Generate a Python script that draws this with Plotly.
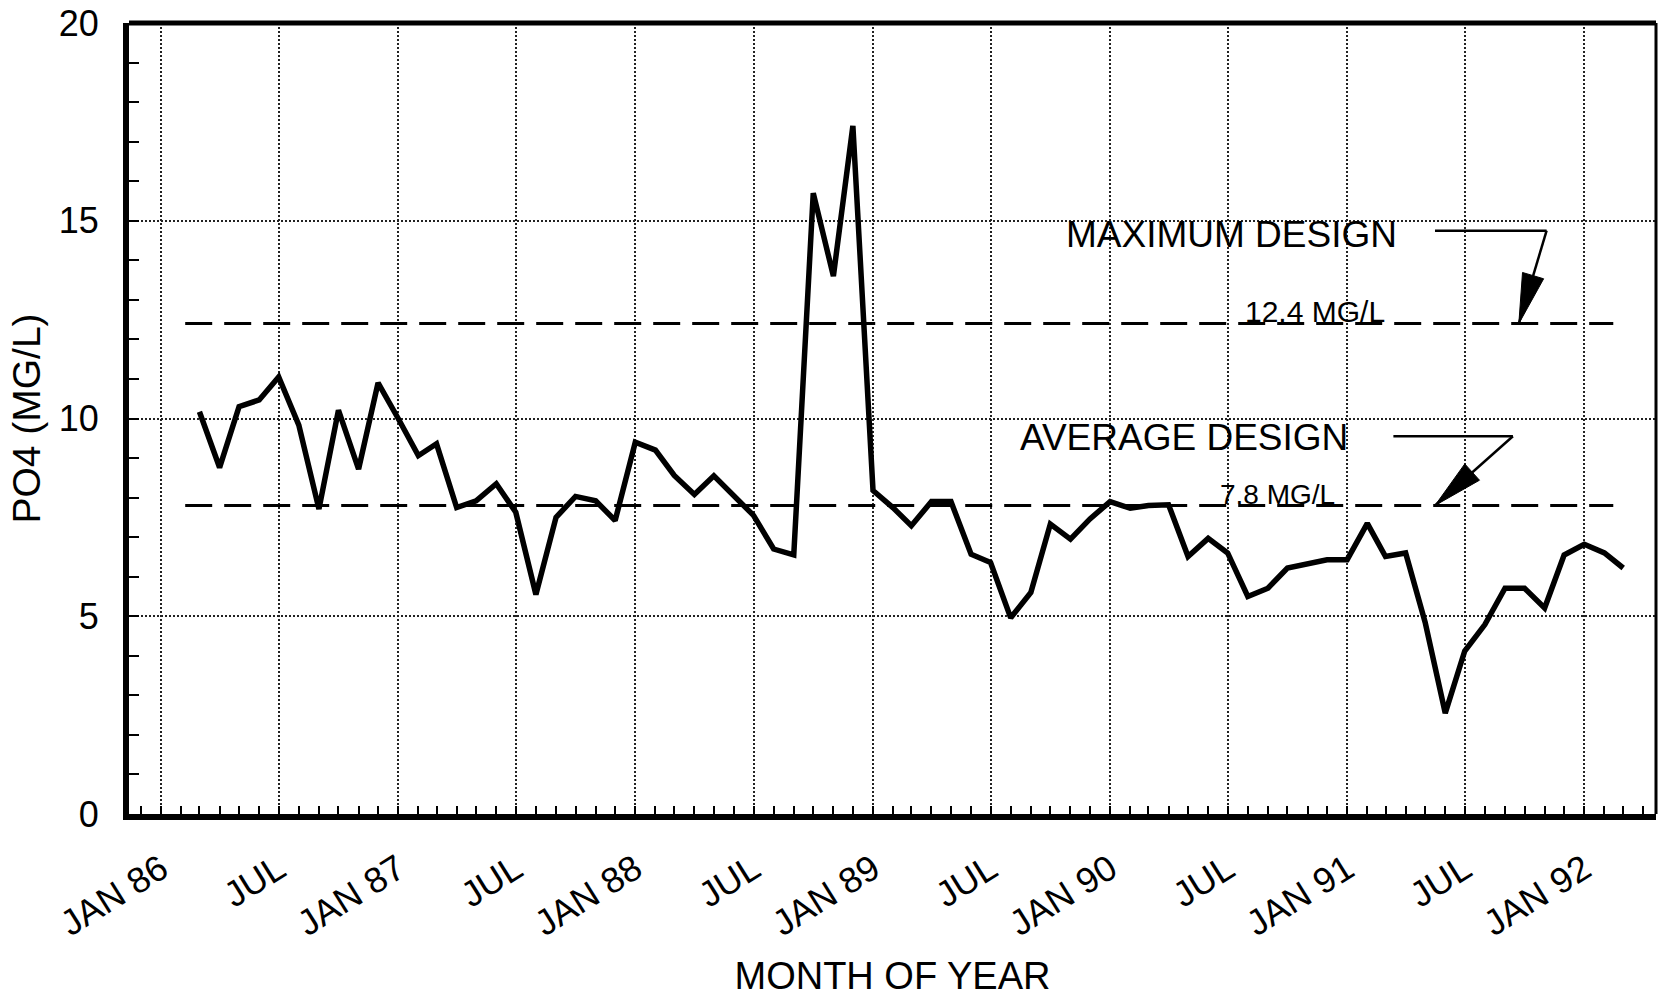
import math
import pandas as pd
import plotly.graph_objects as go

# ---------------- data ----------------
first_month = "1986-03-01"
po4_mg_l = [10.17, 8.76, 10.3, 10.47, 11.05, 9.83, 7.71, 10.21, 8.72, 10.9,
            10.0, 9.06, 9.36, 7.75, 7.92, 8.35, 7.63, 5.55, 7.5, 8.03, 7.92, 7.42,
            9.4, 9.2, 8.56, 8.08, 8.55, 8.05, 7.55, 6.7, 6.55, 15.7, 13.6, 17.4,
            8.18, 7.74, 7.29, 7.9, 7.9, 6.57, 6.36, 4.96, 5.6, 7.33, 6.95, 7.46,
            7.9, 7.73, 7.8, 7.82, 6.51, 6.97, 6.6, 5.5, 5.71, 6.22, 6.32, 6.43,
            6.43, 7.35, 6.51, 6.6, 4.85, 2.55, 4.12, 4.79, 5.71, 5.71, 5.21, 6.55,
            6.82, 6.6, 6.22]
months = pd.date_range(first_month, periods=len(po4_mg_l), freq="MS")

tick_dates = ["1986-01-01", "1986-07-01", "1987-01-01", "1987-07-01",
              "1988-01-01", "1988-07-01", "1989-01-01", "1989-07-01",
              "1990-01-01", "1990-07-01", "1991-01-01", "1991-07-01",
              "1992-01-01"]
tick_labels = ["JAN 86", "JUL", "JAN 87", "JUL", "JAN 88", "JUL", "JAN 89",
               "JUL", "JAN 90", "JUL", "JAN 91", "JUL", "JAN 92"]

design_levels = [12.4, 7.8]
design_titles = ["MAXIMUM DESIGN", "AVERAGE DESIGN"]
design_values = ["12.4 MG/L", "7.8 MG/L"]

# ---------------- layout geometry ----------------
W, H = 1659, 999
ML, MR, MT, MB = 129, 3, 21, 185
X_MIN_M, X_MAX_M = -1.62, 75.64     # months relative to Jan 1986
Y_MIN, Y_MAX = 0, 20
PX_M = (W - ML - MR) / (X_MAX_M - X_MIN_M)
PX_U = (H - MT - MB) / (Y_MAX - Y_MIN)
BASE = pd.Timestamp("1986-01-01")
FONT = "Liberation Sans, Arial, Helvetica, sans-serif"


def md(m):
    whole = math.floor(m)
    frac = m - whole
    d = BASE + pd.DateOffset(months=whole) + pd.Timedelta(days=frac * 30.4)
    return d.strftime("%Y-%m-%d %H:%M")


def head_path(dm, dv, length, half_w):
    tx, ty = dm * PX_M, dv * PX_U
    n = math.hypot(tx, ty)
    ux, uy = tx / n, ty / n
    bx, by = ux * length, uy * length
    nx, ny = -uy, ux
    return ("M0,0 L{:.1f},{:.1f} L{:.1f},{:.1f} Z"
            .format(bx + half_w * nx, by + half_w * ny,
                    bx - half_w * nx, by - half_w * ny))


fig = go.Figure()
fig.add_trace(go.Scatter(x=months, y=po4_mg_l, mode="lines",
                         line=dict(color="black", width=5.5),
                         hoverinfo="x+y", showlegend=False))

shapes = []
# design reference lines (dashed)
for lvl in design_levels:
    shapes.append(dict(type="line", xref="x", yref="y", x0=md(1.2), x1=md(73.45),
                       y0=lvl, y1=lvl, line=dict(color="black", width=3, dash="27px,12px")))

# leader lines + arrows (corner -> tip)
leaders = [
    # (start m, corner m, level y, tip m, tip y)
    (64.5, 70.1, 14.75, 68.7, design_levels[0]),
    (62.4, 68.4, 9.55, 64.5, design_levels[1]),
]
for m0, mc, yl, mt, yt in leaders:
    shapes.append(dict(type="line", xref="x", yref="y", x0=md(m0), x1=md(mc),
                       y0=yl, y1=yl, line=dict(color="black", width=2.5)))
    shapes.append(dict(type="line", xref="x", yref="y", x0=md(mc), x1=md(mt),
                       y0=yl, y1=yt, line=dict(color="black", width=2.5)))
    shapes.append(dict(type="path", xref="x", yref="y",
                       xsizemode="pixel", ysizemode="pixel",
                       xanchor=md(mt), yanchor=yt,
                       path=head_path(mc - mt, yl - yt, 50, 11),
                       fillcolor="black", line=dict(color="black", width=1)))

# frame: top and right borders
shapes.append(dict(type="line", xref="paper", yref="paper", x0=0, x1=1, y0=1, y1=1,
                   line=dict(color="black", width=5), layer="above"))
shapes.append(dict(type="line", xref="paper", yref="paper", x0=1, x1=1, y0=0, y1=1,
                   line=dict(color="black", width=3), layer="above"))

annotations = [
    dict(x=md(54.2), y=14.64, xref="x", yref="y", text=design_titles[0],
         showarrow=False, font=dict(family=FONT, size=37, color="black")),
    dict(x=md(51.8), y=9.52, xref="x", yref="y", text=design_titles[1],
         showarrow=False, font=dict(family=FONT, size=37, color="black")),
    dict(x=md(58.4), y=design_levels[0], xref="x", yref="y", text=design_values[0],
         showarrow=False, yanchor="bottom", yshift=-6,
         font=dict(family=FONT, size=30, color="black")),
    dict(x=md(56.5), y=design_levels[1], xref="x", yref="y", text=design_values[1],
         showarrow=False, yanchor="bottom", yshift=-6,
         font=dict(family=FONT, size=28, color="black")),
]

fig.update_layout(
    width=W, height=H, autosize=False,
    margin=dict(l=ML, r=MR, t=MT, b=MB, pad=0),
    paper_bgcolor="white", plot_bgcolor="white",
    font=dict(family=FONT, color="black"),
    shapes=shapes, annotations=annotations, showlegend=False,
    xaxis=dict(
        type="date", range=[md(X_MIN_M), md(X_MAX_M)],
        tickvals=tick_dates, ticktext=tick_labels, tickangle=-32,
        tickfont=dict(family=FONT, size=36, color="black"),
        ticks="inside", ticklen=8, tickwidth=2, tickcolor="black",
        ticklabelstandoff=14,
        minor=dict(dtick="M1", tick0="1986-01-01", ticks="inside", ticklen=8,
                   tickwidth=2, tickcolor="black", showgrid=False),
        showgrid=True, gridcolor="#222", gridwidth=1.6, griddash="2px,2px",
        showline=True, linecolor="black", linewidth=6,
        zeroline=False,
        title=dict(text="MONTH OF YEAR", font=dict(family=FONT, size=38, color="black"),
                   standoff=22),
    ),
    yaxis=dict(
        range=[Y_MIN, Y_MAX], tickvals=[0, 5, 10, 15, 20],
        tickfont=dict(family=FONT, size=36, color="black"),
        ticks="inside", ticklen=10, tickwidth=2, tickcolor="black",
        ticklabelstandoff=17,
        minor=dict(dtick=1, ticks="inside", ticklen=10, tickwidth=2,
                   tickcolor="black", showgrid=False),
        showgrid=True, gridcolor="#222", gridwidth=1.6, griddash="2px,2px",
        showline=True, linecolor="black", linewidth=6,
        zeroline=False,
        title=dict(text="PO4 (MG/L)", font=dict(family=FONT, size=39, color="black"),
                   standoff=8),
    ),
)

fig.write_html("out.html", config={"displayModeBar": False},
               post_script="document.body.style.margin='0';")
